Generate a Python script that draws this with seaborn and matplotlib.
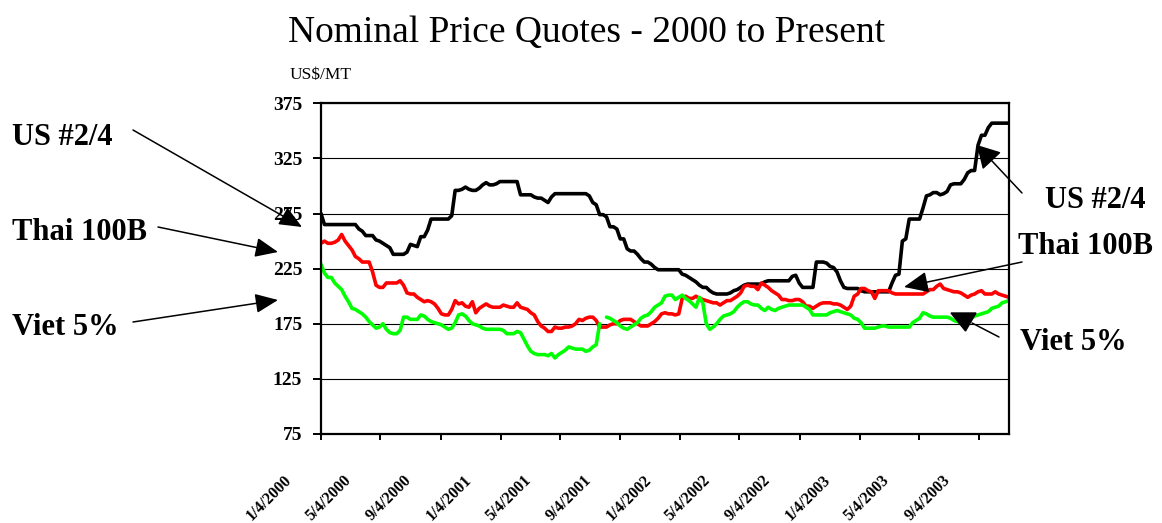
import numpy as np
import pandas as pd
import matplotlib
matplotlib.use("Agg")
import matplotlib.pyplot as plt
from matplotlib.patches import FancyArrowPatch, Polygon
from matplotlib.transforms import ScaledTranslation
import seaborn as sns

# ---------------- data (weekly quotes, US$/MT) ----------------
start_date = "2000-01-04"

us_2_4 = [
    275, 265, 265, 265, 265, 265, 265, 265, 265, 265, 265,
    261, 259, 255, 255, 255, 251, 250, 248, 246, 244,
    238, 238, 238, 238, 240, 247, 246, 245, 254, 254,
    260, 270, 270, 270, 270, 270, 270, 273, 296, 296,
    297, 299, 297, 296, 296, 298, 301, 303, 301, 301,
    302, 304, 304, 304, 304, 304, 304, 292, 292, 292,
    292, 290, 289, 289, 287, 285, 290, 293, 293, 293,
    293, 293, 293, 293, 293, 293, 293, 291, 285, 283,
    274, 274, 272, 263, 263, 261, 252, 252, 243, 241,
    241, 238, 234, 231, 231, 229, 226, 224, 224, 224,
    224, 224, 224, 224, 220, 219, 217, 215, 213, 210,
    208, 208, 205, 203, 202, 202, 202, 202, 203, 205,
    206, 208, 210, 211, 211, 211, 211, 211, 213, 214,
    214, 214, 214, 214, 214, 214, 218, 219, 212, 208,
    208, 208, 208, 231, 231, 231, 230, 227, 226, 222,
    214, 208, 207, 207, 207, 207, 205, 204, 204, 204,
    204, 204, 204, 204, 204, 212, 219, 220, 250, 252,
    270, 270, 270, 270, 280, 291, 292, 294, 294, 292,
    293, 295, 301, 302, 302, 302, 306, 312, 314, 314,
    337, 346, 346, 353, 357, 357, 357, 357, 357, 357,
]

thai_100b = [
    248, 250, 248, 248, 249, 251, 256, 250, 246, 242, 236,
    234, 231, 231, 231, 222, 210, 208, 208, 212, 212,
    212, 212, 214, 210, 203, 202, 202, 199, 197, 195,
    196, 195, 193, 189, 184, 183, 183, 188, 196, 193,
    194, 191, 190, 195, 185, 189, 191, 193, 191, 190,
    190, 190, 192, 191, 190, 190, 194, 190, 189, 188,
    185, 183, 177, 173, 171, 168, 168, 172, 171, 171,
    172, 172, 173, 175, 179, 178, 180, 181, 181, 178,
    172, 172, 172, 174, 175, 175, 178, 179, 179, 179,
    177, 175, 173, 173, 173, 175, 177, 180, 184, 185,
    184, 184, 183, 184, 198, 200, 198, 198, 200, 198,
    197, 196, 195, 194, 194, 192, 194, 196, 196, 198,
    200, 203, 209, 210, 209, 209, 206, 212, 210, 208,
    205, 203, 201, 197, 197, 196, 196, 197, 197, 195,
    191, 191, 189, 191, 193, 194, 194, 194, 193, 193,
    192, 190, 188, 191, 200, 202, 207, 207, 205, 204,
    198, 205, 205, 205, 205, 203, 202, 202, 202, 202,
    202, 202, 202, 202, 202, 204, 206, 206, 209, 211,
    207, 206, 205, 204, 204, 203, 201, 199, 201, 202,
    204, 205, 202, 202, 202, 204, 202, 201, 200, 199,
]

viet_5 = [
    229, 221, 217, 217, 212, 209, 206, 200, 195, 189, 188,
    186, 184, 181, 177, 174, 171, 172, 175, 170, 167,
    166, 166, 169, 181, 181, 179, 179, 179, 183, 182,
    179, 177, 176, 175, 174, 172, 170, 171, 176, 183,
    184, 182, 178, 175, 174, 173, 171, 170, 170, 170,
    170, 170, 169, 166, 166, 166, 168, 167, 161, 155,
    150, 148, 147, 147, 147, 146, 148, 144, 147, 149,
    151, 154, 153, 152, 152, 152, 150, 151, 154, 156,
    175, np.nan, 181, 180, 178, 176, 173, 171, 170, 172,
    174, 176, 180, 182, 183, 186, 190, 192, 194, 200,
    201, 201, 197, 199, 201, 198, 196, 193, 190, 199,
    194, 175, 170, 172, 175, 179, 182, 183, 184, 186,
    190, 193, 195, 195, 193, 192, 192, 189, 187, 190,
    188, 187, 189, 190, 191, 192, 192, 192, 192, 192,
    190, 188, 183, 183, 183, 183, 183, 185, 186, 187,
    186, 185, 184, 183, 180, 179, 176, 171, 171, 171,
    171, 172, 173, 173, 172, 172, 172, 172, 172, 172,
    172, 176, 178, 180, 185, 184, 182, 181, 181, 181,
    181, 181, 180, 178, 177, 176, 177, 179, 180, 182,
    183, 184, 185, 186, 189, 190, 191, 194, 195, 196,
]

series_names = ["US #2/4", "Thai 100B", "Viet 5%"]
series_colors = ["#000000", "#FF0000", "#00FF00"]

tick_dates = ["2000-01-04", "2000-05-04", "2000-09-04", "2001-01-04",
              "2001-05-04", "2001-09-04", "2002-01-04", "2002-05-04",
              "2002-09-04", "2003-01-04", "2003-05-04", "2003-09-04"]
tick_labels = ["1/4/2000", "5/4/2000", "9/4/2000", "1/4/2001",
               "5/4/2001", "9/4/2001", "1/4/2002", "5/4/2002",
               "9/4/2002", "1/4/2003", "5/4/2003", "9/4/2003"]
y_ticks = [75, 125, 175, 225, 275, 325, 375]

# ---------------- long-form table ----------------
dates = pd.date_range(start_date, periods=len(us_2_4), freq="7D")
frames = []
for name, vals in zip(series_names, [us_2_4, thai_100b, viet_5]):
    v = np.asarray(vals, dtype=float)
    seg = np.cumsum(np.isnan(v))
    df = pd.DataFrame({"date": dates, "price": v, "series": name,
                       "unit": [f"{name}_{s}" for s in seg]})
    frames.append(df.dropna())
data = pd.concat(frames, ignore_index=True)

# ---------------- figure ----------------
sns.set_style("white")
plt.rcParams["font.family"] = ["Liberation Serif", "DejaVu Serif"]
plt.rcParams["text.color"] = "black"
plt.rcParams["axes.labelcolor"] = "black"
plt.rcParams["xtick.color"] = "black"
plt.rcParams["ytick.color"] = "black"

W, H = 1162, 523
fig = plt.figure(figsize=(W / 100, H / 100), dpi=100)
ax = fig.add_axes([321 / W, 1 - 434 / H, (1009 - 321) / W, (434 - 103.3) / H])

sns.lineplot(data=data, x="date", y="price", hue="series", units="unit",
             estimator=None, hue_order=series_names,
             palette=dict(zip(series_names, series_colors)),
             linewidth=2.6, legend=False, ax=ax)

ax.set_xlim(dates[0], dates[-1])
ax.set_ylim(75, 375)
ax.set_xlabel("")
ax.set_ylabel("")
ax.yaxis.grid(True, color="black", linewidth=0.8)
ax.xaxis.grid(False)
ax.set_axisbelow(True)
for sp in ax.spines.values():
    sp.set_visible(True)
    sp.set_color("black")
    sp.set_linewidth(1.6)

ax.set_yticks(y_ticks)
ax.set_yticklabels([str(v) for v in y_ticks], fontweight="bold", fontsize=14,
                   color="black")
ax.tick_params(axis="y", direction="out", length=6, width=1.4, pad=7.5,
               colors="black", left=True)

ax.set_xticks(pd.to_datetime(tick_dates))
ax.set_xticklabels(tick_labels, rotation=45, ha="right", va="top",
                   rotation_mode="anchor", fontweight="bold", fontsize=11.5,
                   color="black")
ax.tick_params(axis="x", direction="out", length=4.3, width=1.4, pad=0,
               colors="black", bottom=True)
offset = ScaledTranslation(-37 / 100, -32 / 100, fig.dpi_scale_trans)
for lbl in ax.get_xticklabels():
    lbl.set_transform(lbl.get_transform() + offset)

# ---------------- texts ----------------
def fp(x, y):
    return (x / W, 1 - y / H)

fig.text(*fp(587, 42), "Nominal Price Quotes - 2000 to Present",
         ha="center", va="baseline", fontsize=27, color="black")
fig.text(*fp(290, 79), "US$/MT", ha="left", va="baseline", fontsize=12.5,
         color="black")

left_labels = [("US #2/4", 12, 145), ("Thai 100B", 12, 240), ("Viet 5%", 12, 335)]
right_labels = [("US #2/4", 1045, 208), ("Thai 100B", 1018, 254), ("Viet 5%", 1020, 350)]
for txt, x, y in left_labels + right_labels:
    fig.text(*fp(x, y), txt, ha="left", va="baseline", fontsize=22,
             fontweight="bold", color="black")

# ---------------- arrows ----------------
arrows = [
    ((133, 130), (302, 227), 14, 6),
    ((158, 227), (278, 252), 14, 6),
    ((133, 322), (278, 300), 14, 6),
    ((1022, 193), (977, 145), 14, 8),
    ((1022, 262), (904, 287), 15, 6.5),
]
for tail, tip, hl, hw in arrows:
    fig.add_artist(FancyArrowPatch(
        fp(*tail), fp(*tip), transform=fig.transFigure,
        arrowstyle=f"-|>,head_length={hl},head_width={hw}",
        mutation_scale=1, shrinkA=0, shrinkB=0,
        color="black", linewidth=1.1))

fig.add_artist(FancyArrowPatch(
    fp(999, 337), fp(972, 323), transform=fig.transFigure,
    arrowstyle="-", shrinkA=0, shrinkB=0, color="black", linewidth=1.1))
fig.add_artist(Polygon([fp(951, 313), fp(976, 313), fp(965.5, 331)],
                       closed=True, transform=fig.transFigure,
                       facecolor="black", edgecolor="black"))

fig.savefig("out.png", dpi=100)
